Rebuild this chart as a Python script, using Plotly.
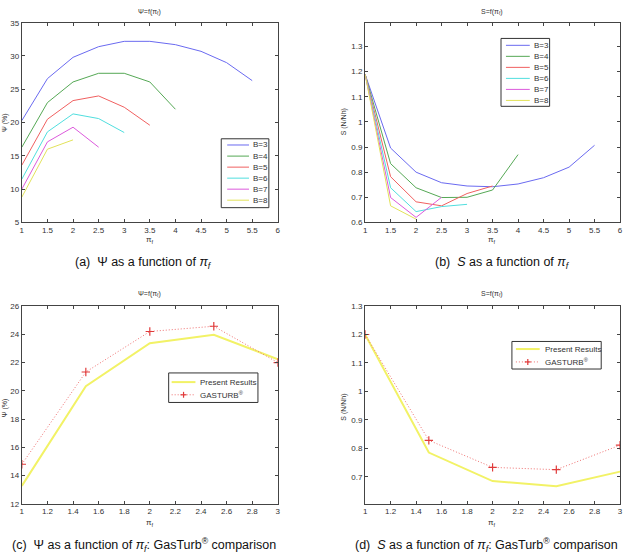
import plotly.graph_objects as go

# ---------------- data ----------------
pi_f_a = [1, 1.5, 2, 2.5, 3, 3.5, 4, 4.5, 5, 5.5]
psi_B3 = [20.3, 26.6, 29.8, 31.4, 32.2, 32.2, 31.7, 30.7, 29.0, 26.3]
psi_B4 = [16.3, 23.0, 26.1, 27.4, 27.4, 26.1, 22.0]
psi_B5 = [13.6, 20.5, 23.3, 24.0, 22.3, 19.6]
psi_B6 = [11.5, 18.6, 21.3, 20.6, 18.5]
psi_B7 = [10.0, 17.1, 19.3, 16.3]
psi_B8 = [8.8, 16.0, 17.4]

s_B3 = [1.19, 0.896, 0.80, 0.758, 0.745, 0.742, 0.753, 0.778, 0.82, 0.907]
s_B4 = [1.19, 0.834, 0.738, 0.699, 0.70, 0.729, 0.87]
s_B5 = [1.19, 0.782, 0.682, 0.666, 0.715, 0.745]
s_B6 = [1.19, 0.738, 0.643, 0.663, 0.672]
s_B7 = [1.19, 0.699, 0.620, 0.700]
s_B8 = [1.19, 0.666, 0.613]

b_labels = ["B=3", "B=4", "B=5", "B=6", "B=7", "B=8"]
b_colors = ["#6a6af0", "#55a855", "#f06060", "#50dede", "#dc5adc", "#e2e25a"]

pi_f_c = [1, 1.5, 2, 2.5, 3]
psi_present = [13.27, 20.33, 23.37, 23.97, 22.23]
psi_gasturb = [14.8, 21.33, 24.2, 24.57, 22.0]
s_present = [1.2, 0.785, 0.685, 0.667, 0.718]
s_gasturb = [1.2, 0.828, 0.733, 0.725, 0.811]
cmp_labels = ["Present Results", "GASTURB<sup>®</sup>"]

# ---------------- figure ----------------
fig = go.Figure()
FONT = "Liberation Sans, Arial, sans-serif"
YEL = "#f2f266"
RED = "#e03a3a"
RED_LINE = "#ee7070"

psi_sets = [psi_B3, psi_B4, psi_B5, psi_B6, psi_B7, psi_B8]
s_sets = [s_B3, s_B4, s_B5, s_B6, s_B7, s_B8]
for lbl, col, ys in zip(b_labels, b_colors, psi_sets):
    fig.add_trace(go.Scatter(x=pi_f_a[:len(ys)], y=ys, mode="lines", name=lbl,
                             line=dict(color=col, width=1), xaxis="x", yaxis="y"))
for lbl, col, ys in zip(b_labels, b_colors, s_sets):
    fig.add_trace(go.Scatter(x=pi_f_a[:len(ys)], y=ys, mode="lines", name=lbl,
                             line=dict(color=col, width=1), xaxis="x2", yaxis="y2"))

for xa, ya, pres, gas in [("x3", "y3", psi_present, psi_gasturb),
                          ("x4", "y4", s_present, s_gasturb)]:
    fig.add_trace(go.Scatter(x=pi_f_c, y=pres, mode="lines", name=cmp_labels[0],
                             line=dict(color=YEL, width=2), xaxis=xa, yaxis=ya))
    fig.add_trace(go.Scatter(x=pi_f_c, y=gas, mode="lines+markers", name=cmp_labels[1],
                             line=dict(color=RED_LINE, width=1, dash="1px,2px"),
                             marker=dict(symbol="cross-thin", size=6, line=dict(color=RED, width=1.2)),
                             xaxis=xa, yaxis=ya))

W, H = 630, 558
def px_x(p):
    return p / W
def px_y(p):
    return 1 - p / H

dom_left = [px_x(20), px_x(278)]
dom_right = [px_x(366), px_x(623)]
dom_top = [px_y(222), px_y(19)]
dom_bot = [px_y(508), px_y(307)]

axcommon = dict(showline=True, linecolor="#444", linewidth=1, mirror="ticks",
                ticks="inside", ticklen=3, tickcolor="#444", showgrid=False,
                zeroline=False, tickfont=dict(size=8, color="#333", family=FONT))

fig.update_layout(
    width=W, height=H, margin=dict(l=0, r=0, t=0, b=0), showlegend=False,
    paper_bgcolor="white", plot_bgcolor="white",
    xaxis=dict(domain=dom_left, anchor="y", range=[1, 6], dtick=0.5, **axcommon),
    yaxis=dict(domain=dom_top, anchor="x", range=[5, 35], dtick=5, **axcommon),
    xaxis2=dict(domain=dom_right, anchor="y2", range=[1, 6], dtick=0.5, **axcommon),
    yaxis2=dict(domain=dom_top, anchor="x2", range=[0.6, 1.395],
                tickvals=[0.6, 0.7, 0.8, 0.9, 1.0, 1.1, 1.2, 1.3],
                ticktext=["0.6", "0.7", "0.8", "0.9", "1", "1.1", "1.2", "1.3"], **axcommon),
    xaxis3=dict(domain=dom_left, anchor="y3", range=[1, 3], dtick=0.2, **axcommon),
    yaxis3=dict(domain=dom_bot, anchor="x3", range=[12, 26], dtick=2, **axcommon),
    xaxis4=dict(domain=dom_right, anchor="y4", range=[1, 3], dtick=0.2, **axcommon),
    yaxis4=dict(domain=dom_bot, anchor="x4", range=[0.605, 1.3],
                tickvals=[0.7, 0.8, 0.9, 1.0, 1.1, 1.2, 1.3],
                ticktext=["0.7", "0.8", "0.9", "1", "1.1", "1.2", "1.3"], **axcommon),
)

ann = []
shapes = []
def add_text(x, y, text, size, angle=0, color="#333", xanchor="center"):
    ann.append(dict(x=px_x(x), y=px_y(y), xref="paper", yref="paper", text=text,
                    showarrow=False, textangle=angle, xanchor=xanchor, yanchor="middle",
                    font=dict(size=size, color=color, family=FONT)))

def add_line(x0, y0, x1, y1, color, width=1, dash="solid"):
    shapes.append(dict(type="line", xref="paper", yref="paper",
                       x0=px_x(x0), y0=px_y(y0), x1=px_x(x1), y1=px_y(y1),
                       line=dict(color=color, width=width, dash=dash)))

def add_box(x0, y0, x1, y1):
    shapes.append(dict(type="rect", xref="paper", yref="paper",
                       x0=px_x(x0), y0=px_y(y0), x1=px_x(x1), y1=px_y(y1),
                       line=dict(color="#333", width=1), fillcolor="white", layer="above"))

# ----- manual legends (MATLAB-style compact boxes) -----
def b_legend(x0, y0, x1, y1, lx0, lx1, tx, rows):
    add_box(x0, y0, x1, y1)
    for lbl, col, ry in zip(b_labels, b_colors, rows):
        add_line(lx0, ry, lx1, ry, col, 1)
        add_text(tx, ry, lbl, 8, xanchor="left")

b_legend(221, 137, 269, 207, 227, 249, 251, [143.3, 154.6, 165.8, 177, 188.2, 199.4])
b_legend(503, 35, 552, 104, 508, 532, 534, [42, 53.2, 64.4, 75.6, 86.8, 98])

def cmp_legend(x0, y0, x1, y1, lx0, lx1, tx, rows):
    add_box(x0, y0, x1, y1)
    add_line(lx0, rows[0], lx1, rows[0], YEL, 2)
    add_text(tx, rows[0], cmp_labels[0], 8, xanchor="left")
    add_line(lx0, rows[1], lx1, rows[1], RED_LINE, 1, "1px,2px")
    cx = (lx0 + lx1) / 2
    add_line(cx - 3, rows[1], cx + 3, rows[1], RED, 1.2)
    add_line(cx, rows[1] - 3, cx, rows[1] + 3, RED, 1.2)
    add_text(tx, rows[1], cmp_labels[1], 8, xanchor="left")

cmp_legend(168, 375, 258, 405, 171, 195, 198, [384.3, 397.2])
cmp_legend(514, 343, 604, 371, 518, 542, 545, [350.7, 363.8])

# subplot titles
add_text(149, 8, "Ψ=f(π<sub>f</sub>)", 7)
add_text(494, 8, "S=f(π<sub>f</sub>)", 7)
add_text(149, 295, "Ψ=f(π<sub>f</sub>)", 7)
add_text(494, 295, "S=f(π<sub>f</sub>)", 7)
# x-axis titles
add_text(149, 240, "π<sub>f</sub>", 8)
add_text(494, 240, "π<sub>f</sub>", 8)
add_text(149, 527, "π<sub>f</sub>", 8)
add_text(494, 527, "π<sub>f</sub>", 8)
# y-axis titles
add_text(3, 120, "Ψ (%)", 7, -90)
add_text(345, 120, "S (N/Nh)", 7, -90)
add_text(3, 410, "Ψ (%)", 7, -90)
add_text(345, 410, "S (N/Nh)", 7, -90)
# captions
add_text(143, 263, "(a)  Ψ as a function of <i>π<sub>f</sub></i>", 12.5, color="#111")
add_text(505, 263, "(b)  <i>S</i> as a function of <i>π<sub>f</sub></i>", 12.5, color="#111")
add_text(143, 550, "(c)  Ψ as a function of <i>π<sub>f</sub></i>: GasTurb<sup>®</sup> comparison", 12.5, color="#111")
add_text(488, 550, "(d)  <i>S</i> as a function of <i>π<sub>f</sub></i>: GasTurb<sup>®</sup> comparison", 12.5, color="#111")
fig.update_layout(annotations=ann, shapes=shapes)

fig.write_html("out.html")
